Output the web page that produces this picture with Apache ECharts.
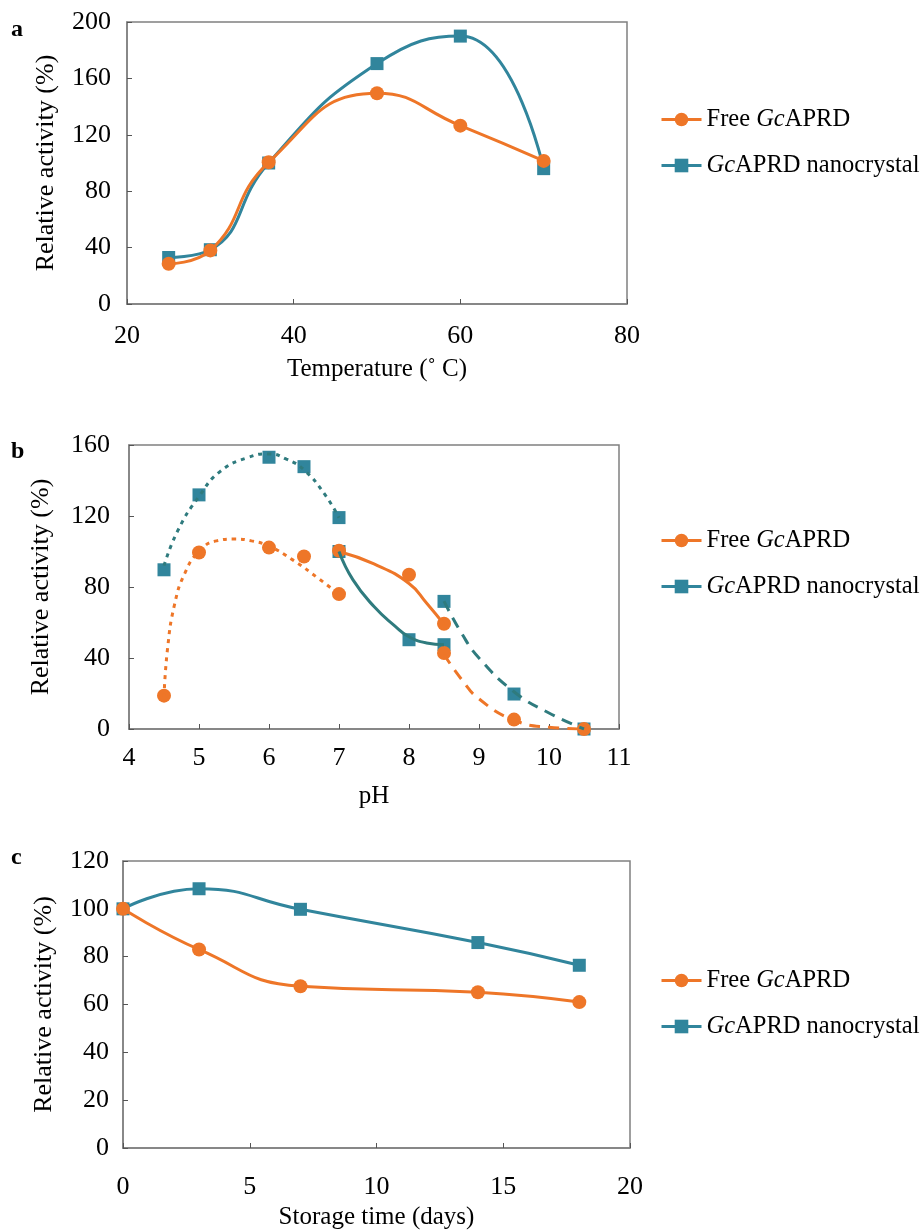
<!DOCTYPE html>
<html><head><meta charset="utf-8">
<script src="https://cdn.jsdelivr.net/npm/echarts@6/dist/echarts.min.js"></script>
<style>html,body{margin:0;padding:0;background:#fff}#c{width:921px;height:1231px}</style>
</head><body><div id="c"></div><script>
// ---- Panel a: temperature ----
const tempX = [25, 30, 37, 50, 60, 70];
const tempFree = [28.5, 38, 100.5, 149.5, 126.5, 101.5];
const tempNano = [33, 38.5, 100, 170.5, 190, 96];
// ---- Panel b: pH (measured points) ----
const phFreeX = [4.5, 5, 6, 6.5, 7, 7, 8, 8.5, 8.5, 9.5, 10.5];
const phFreeY = [18.8, 99.4, 102.2, 97.2, 76, 100.4, 86.9, 59.3, 42.8, 5.3, 0];
const phNanoX = [4.5, 5, 6, 6.5, 7, 7, 8, 8.5, 8.5, 9.5, 10.5];
const phNanoY = [89.7, 131.9, 153.1, 147.8, 119.1, 100, 50.3, 47.5, 71.9, 19.7, 0];
// ---- Panel b: trend curves ----
const fitFreeAcidX = [4.5, 4.55, 4.65, 4.8, 5, 5.25, 5.5, 5.75, 6, 6.35, 6.7, 7];
const fitFreeAcidY = [18, 45, 70, 88, 100, 106, 107, 106, 103, 95, 85, 76];
const fitNanoAcidX = [4.5, 4.7, 5, 5.3, 5.7, 6, 6.25, 6.5, 6.8, 7];
const fitNanoAcidY = [92, 112, 131, 145, 153, 155, 152, 146, 132, 119];
const fitFreeMidX = [7, 7.5, 8, 8.25, 8.5];
const fitFreeMidY = [100, 93, 82, 71, 59];
const fitNanoMidX = [7, 7.2, 7.5, 7.8, 8, 8.25, 8.5];
const fitNanoMidY = [100, 84, 69, 58, 52, 48.5, 47.5];
const fitFreeAlkX = [8.5, 8.75, 9, 9.5, 10, 10.5];
const fitFreeAlkY = [42, 28, 17, 5, 1, 0];
const fitNanoAlkX = [8.5, 8.75, 9, 9.5, 10, 10.5];
const fitNanoAlkY = [72, 54, 40, 21, 9, 0];
// ---- Panel c: storage ----
const dayX = [0, 3, 7, 14, 18];
const storeFree = [100, 83, 67.6, 65.1, 61];
const storeNano = [100, 108.4, 99.8, 85.9, 76.4];
// ---- text ----
const nameFree = 'Free GcAPRD';
const nameNano = 'GcAPRD nanocrystal';
const yName = 'Relative activity (%)';
const xNames = ['Temperature (˚ C)', 'pH', 'Storage time (days)'];
const panelLetters = ['a', 'b', 'c'];

const FONT = "'Liberation Serif', 'Times New Roman', serif";
const ORANGE = '#EE7628';
const BLUE = '#31859C';
const TEAL = '#2F7B7E';
const AXC = '#808080';

const zip = (xs, ys) => xs.map((x, i) => [x, ys[i]]);

function xAxis(idx, min, max, interval, name, margin, gap) {
  return {
    type: 'value', gridIndex: idx, min, max, interval,
    name, nameLocation: 'middle', nameGap: gap,
    nameTextStyle: {fontFamily: FONT, fontSize: 25, color: '#000', verticalAlign: 'top'},
    axisLine: {show: true, lineStyle: {color: AXC, width: 1.5}},
    axisTick: {show: true, inside: true, length: 5, lineStyle: {color: '#555', width: 1}},
    axisLabel: {fontFamily: FONT, fontSize: 26, color: '#000', margin},
    splitLine: {show: false}
  };
}
function yAxis(idx, min, max, interval, margin, gap) {
  return {
    type: 'value', gridIndex: idx, min, max, interval,
    name: yName, nameLocation: 'middle', nameGap: gap, nameRotate: 90,
    nameTextStyle: {fontFamily: FONT, fontSize: 26, color: '#000'},
    axisLine: {show: true, lineStyle: {color: AXC, width: 1.5}},
    axisTick: {show: true, inside: true, length: 5, lineStyle: {color: '#555', width: 1}},
    axisLabel: {fontFamily: FONT, fontSize: 26, color: '#000', margin},
    splitLine: {show: false}
  };
}
function legend(top, gap) {
  return {
    data: [nameFree, nameNano], orient: 'vertical', left: 655, top,
    itemWidth: 40, itemHeight: 17, itemGap: gap,
    lineStyle: {width: 3},
    formatter: n => n.replace('Gc', '{i|Gc}'),
    textStyle: {fontFamily: FONT, fontSize: 24.5, color: '#000', lineHeight: 24,
      rich: {i: {fontFamily: FONT, fontSize: 24.5, fontStyle: 'italic', color: '#000', lineHeight: 24}}}
  };
}
const circ = {symbol: 'circle', symbolSize: 14};
const sq = {symbol: 'rect', symbolSize: 13};

const fitLine = (name, xs, ys, color, type) => ({
  name, type: 'line', xAxisIndex: 1, yAxisIndex: 1, data: zip(xs, ys),
  smooth: 0.5, showSymbol: false, symbol: 'none', z: 3,
  lineStyle: {color, width: 3, type, cap: 'butt'}
});

const option = {
  animation: false,
  backgroundColor: '#fff',
  grid: [
    {left: 127, top: 22, right: 294, height: 282, show: true, borderColor: AXC, borderWidth: 1.5},
    {left: 129, top: 445, right: 302, height: 284, show: true, borderColor: AXC, borderWidth: 1.5},
    {left: 123, top: 861, right: 291, height: 293, show: true, borderColor: AXC, borderWidth: 1.5}
  ],
  xAxis: [
    xAxis(0, 20, 80, 20, xNames[0], 19, 53),
    xAxis(1, 4, 11, 1, xNames[1], 16, 55),
    xAxis(2, 0, 20, 5, xNames[2], 26, 57)
  ],
  yAxis: [
    yAxis(0, 0, 200, 40, 16, 68),
    yAxis(1, 0, 160, 40, 19, 75),
    yAxis(2, 0, 120, 20, 14, 66)
  ],
  legend: [legend(102, 21), legend(523, 21), legend(963, 21)],
  graphic: panelLetters.map((t, i) => ({
    type: 'text', left: 11, top: [18, 440, 846][i],
    style: {text: t, font: "bold 24px 'Liberation Serif', serif", fill: '#000'}
  })),
  series: [
    {name: nameFree, type: 'line', xAxisIndex: 0, yAxisIndex: 0, data: zip(tempX, tempFree), smooth: 0.5,
      ...circ, z: 4, itemStyle: {color: ORANGE}, lineStyle: {color: ORANGE, width: 3}},
    {name: nameNano, type: 'line', xAxisIndex: 0, yAxisIndex: 0, data: zip(tempX, tempNano), smooth: 0.5,
      ...sq, z: 3, itemStyle: {color: BLUE}, lineStyle: {color: BLUE, width: 3}},

    {name: 'Free pH points', type: 'scatter', xAxisIndex: 1, yAxisIndex: 1, data: zip(phFreeX, phFreeY),
      ...circ, z: 2, itemStyle: {color: ORANGE, opacity: 1}},
    {name: 'Nano pH points', type: 'scatter', xAxisIndex: 1, yAxisIndex: 1, data: zip(phNanoX, phNanoY),
      ...sq, z: 1, itemStyle: {color: BLUE, opacity: 1}},
    fitLine('Free acid fit', fitFreeAcidX, fitFreeAcidY, ORANGE, [4, 5]),
    fitLine('Nano acid fit', fitNanoAcidX, fitNanoAcidY, TEAL, [4, 5]),
    fitLine('Free mid fit', fitFreeMidX, fitFreeMidY, ORANGE, 'solid'),
    fitLine('Nano mid fit', fitNanoMidX, fitNanoMidY, TEAL, 'solid'),
    fitLine('Free alk fit', fitFreeAlkX, fitFreeAlkY, ORANGE, [11, 8]),
    fitLine('Nano alk fit', fitNanoAlkX, fitNanoAlkY, TEAL, [11, 8]),

    {name: nameFree, type: 'line', xAxisIndex: 2, yAxisIndex: 2, data: zip(dayX, storeFree), smooth: 0.5,
      ...circ, z: 4, itemStyle: {color: ORANGE}, lineStyle: {color: ORANGE, width: 3}},
    {name: nameNano, type: 'line', xAxisIndex: 2, yAxisIndex: 2, data: zip(dayX, storeNano), smooth: 0.5,
      ...sq, z: 3, itemStyle: {color: BLUE}, lineStyle: {color: BLUE, width: 3}}
  ]
};
const chart = echarts.init(document.getElementById('c'), null, {renderer: 'canvas'});
chart.setOption(option);
</script></body></html>
